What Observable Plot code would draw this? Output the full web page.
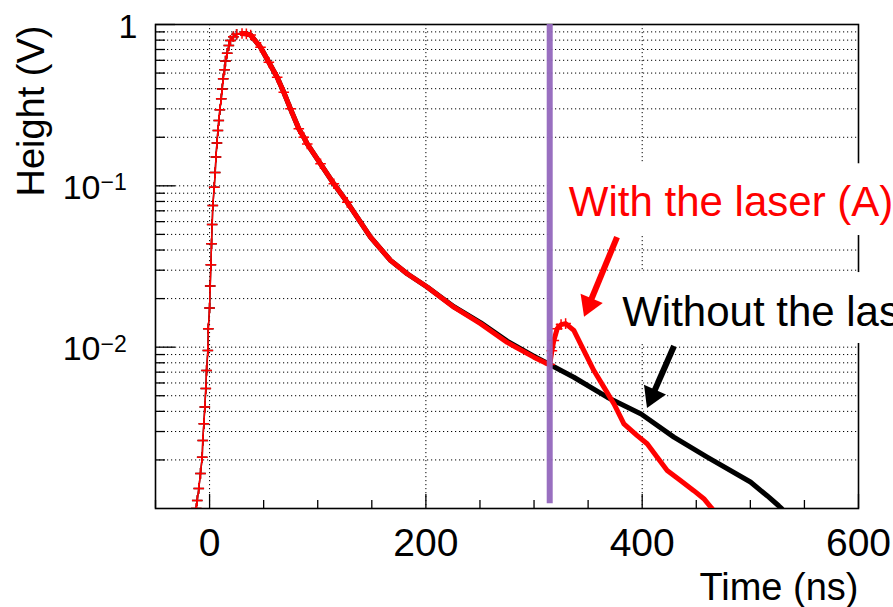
<!DOCTYPE html>
<html>
<head>
<meta charset="utf-8">
<script src="https://cdn.jsdelivr.net/npm/d3@7"></script>
<script src="https://cdn.jsdelivr.net/npm/@observablehq/plot@0.6"></script>
<style>
  html, body { margin: 0; padding: 0; background: #ffffff; }
  #chart svg { display: block; overflow: hidden; }
</style>
</head>
<body>
<div id="chart"></div>
<script>
// ---------------- data ----------------
// Red series: "With the laser (A)"
const redTime = [
  -12.3, -11.4, -10.0, -8.4, -6.8, -6.3, -5.3, -4.4, -3.5, -2.8, -1.6, -1.2,
  0.0, 0.6, 1.2, 1.8, 2.4, 3.0, 4.3, 5.2, 5.9, 6.8, 7.7, 8.5, 9.5, 10.8, 11.7,
  12.6, 13.8, 14.7, 16.3, 17.8, 19.3, 22, 25, 30, 34, 38,
  47.1, 54.8, 62.5, 68.6, 74.8, 82.5, 87.1, 90.3, 102.6, 114.9, 127.3,
  148.8, 167.3, 182.7, 201.2, 225.9, 250.5, 275.2, 299.8, 313.7, 314.5,
  316.5, 318.3, 321.4, 325, 329.2, 336.8, 346.1, 355.3, 364.6, 373.8, 383.1,
  395.4, 404.6, 413.9, 423.1, 435.4, 447.7, 457.0, 463.4, 464.5
];
const redHeight = [
  0.00100, 0.00112, 0.00133, 0.00165, 0.00208, 0.00264, 0.00335, 0.00425, 0.00554, 0.00716, 0.00953, 0.0130,
  0.0175, 0.0239, 0.0324, 0.0437, 0.0576, 0.0755, 0.098, 0.121, 0.151, 0.184, 0.220, 0.254, 0.296, 0.346, 0.399,
  0.461, 0.524, 0.593, 0.664, 0.741, 0.796, 0.84, 0.87, 0.88, 0.875, 0.86,
  0.723, 0.583, 0.471, 0.380, 0.300, 0.226, 0.200, 0.182, 0.137, 0.103, 0.079,
  0.0481, 0.0345, 0.0285, 0.0236, 0.0177, 0.0140, 0.0107, 0.00867, 0.00781, 0.0078,
  0.0095, 0.0110, 0.0130, 0.0138, 0.0140, 0.0127, 0.00953, 0.00716, 0.00565, 0.00446, 0.00335,
  0.00283, 0.00252, 0.00208, 0.00172, 0.00149, 0.00129, 0.00115, 0.00102, 0.00100
];

// Black series: "Without the laser"
const blackTime = [
  -12.3, -11.4, -10.0, -8.4, -6.8, -6.3, -5.3, -4.4, -3.5, -2.8, -1.6, -1.2,
  0.0, 0.6, 1.2, 1.8, 2.4, 3.0, 4.3, 5.2, 5.9, 6.8, 7.7, 8.5, 9.5, 10.8, 11.7,
  12.6, 13.8, 14.7, 16.3, 17.8, 19.3, 22, 25, 30, 34, 38,
  47.1, 54.8, 62.5, 68.6, 74.8, 82.5, 87.1, 90.3, 102.6, 114.9, 127.3,
  148.8, 167.3, 182.7, 201.2, 225.9, 250.5, 275.2, 299.8, 314.5,
  336.8, 367.6, 399.0, 429.3, 460.1, 500.1, 515.5, 526.2, 529.0
];
const blackHeight = [
  0.00100, 0.00112, 0.00133, 0.00165, 0.00208, 0.00264, 0.00335, 0.00425, 0.00554, 0.00716, 0.00953, 0.0130,
  0.0175, 0.0239, 0.0324, 0.0437, 0.0576, 0.0755, 0.098, 0.121, 0.151, 0.184, 0.220, 0.254, 0.296, 0.346, 0.399,
  0.461, 0.524, 0.593, 0.664, 0.741, 0.796, 0.84, 0.87, 0.88, 0.875, 0.86,
  0.723, 0.583, 0.471, 0.380, 0.300, 0.226, 0.200, 0.182, 0.137, 0.103, 0.079,
  0.0481, 0.0345, 0.0285, 0.0236, 0.0178, 0.0142, 0.0109, 0.0088, 0.0078,
  0.00651, 0.00490, 0.00385, 0.00277, 0.00208, 0.00146, 0.00120, 0.00104, 0.00100
];

// Axes / ticks
const xDomain = [-50, 600];
const yDomain = [0.001, 1];
const xMajorTicks = [0, 200, 400, 600];
const xMinorTicks = [-50, 50, 100, 150, 250, 300, 350, 450, 500, 550];
const xTickLabels = ["0", "200", "400", "600"];
const yMajorTicks = [0.01, 0.1, 1];
const yMinorTicks = [
  0.002, 0.003, 0.004, 0.005, 0.006, 0.007, 0.008, 0.009,
  0.02, 0.03, 0.04, 0.05, 0.06, 0.07, 0.08, 0.09,
  0.2, 0.3, 0.4, 0.5, 0.6, 0.7, 0.8, 0.9
];
const yPlainLabelValues = [1];
const yPlainLabels = ["1"];
const yPowerLabelValues = [0.1, 0.01];
const yPowerBase = ["10", "10"];
const yPowerExponent = ["\u22121", "\u22122"];
const xTitle = "Time (ns)";
const yTitle = "Height (V)";

// Laser marker line
const laserTime = [314.5];
const laserTop = [1];
const laserBottom = [0.00107];

// Annotations
const noteTexts = ["With the laser (A)", "Without the laser"];
const noteColors = ["#ff0000", "#000000"];
const noteTime = [332.2, 381.5];
const noteHeight = [0.0646, 0.01362];
// white boxes behind the annotations
const boxTime1 = [314.5, 314.5];
const boxTime2 = [700, 700];
const boxLow = [0.0492, 0.01054];
const boxHigh = [0.137, 0.0290];
// arrows
const arrowTailT = [377.2, 429.9];
const arrowTailV = [0.0478, 0.0101];
const arrowTipT = [346.7, 404.9];
const arrowTipV = [0.0153, 0.00417];
const arrowColors = ["#ff0000", "#000000"];

// ---------------- build ----------------
const W = 893, H = 607;
const mL = 155, mR = 35, mT = 24, mB = 99;
const plotW = W - mL - mR;
const plotH = H - mT - mB;
const fam = "'Liberation Sans', Arial, Helvetica, sans-serif";

const red = redTime.map((t, i) => ({t, v: redHeight[i]}));
const black = blackTime.map((t, i) => ({t, v: blackHeight[i]}));
const boxes = boxTime1.map((x1, i) => ({x1, x2: boxTime2[i], y1: boxLow[i], y2: boxHigh[i]}));
const notes = noteTexts.map((s, i) => ({s, c: noteColors[i], t: noteTime[i], v: noteHeight[i]}));
const powerLabels = yPowerLabelValues.map((v, i) => ({v, b: yPowerBase[i], e: yPowerExponent[i]}));
const plainLabels = yPlainLabelValues.map((v, i) => ({v, s: yPlainLabels[i]}));
const xLabels = xMajorTicks.map((x, i) => ({x, s: xTickLabels[i]}));

const arrowMark = (index, scales) => {
  const g = d3.create("svg:g");
  arrowTailT.forEach((_, i) => {
    const x1 = scales.x(arrowTailT[i]), y1 = scales.y(arrowTailV[i]);
    const x2 = scales.x(arrowTipT[i]), y2 = scales.y(arrowTipV[i]);
    const dx = x2 - x1, dy = y2 - y1, L = Math.hypot(dx, dy);
    const ux = dx / L, uy = dy / L;
    const hl = 20, hw = 12;
    const bx = x2 - ux * hl, by = y2 - uy * hl;
    g.append("line")
      .attr("x1", x1).attr("y1", y1)
      .attr("x2", bx + ux * 2).attr("y2", by + uy * 2)
      .attr("stroke", arrowColors[i]).attr("stroke-width", 6);
    g.append("path")
      .attr("d", `M${x2},${y2}L${bx - uy * hw},${by + ux * hw}L${bx + uy * hw},${by - ux * hw}Z`)
      .attr("fill", arrowColors[i]);
  });
  return g.node();
};

const dotted = {stroke: "#000", strokeWidth: 1, strokeDasharray: "1.2,2.8", strokeOpacity: 1};

const chart = Plot.plot({
  width: W,
  height: H,
  marginLeft: mL,
  marginRight: mR,
  marginTop: mT,
  marginBottom: mB,
  x: {type: "linear", domain: xDomain, axis: null},
  y: {type: "log", domain: yDomain, axis: null},
  style: {fontFamily: fam, background: "#ffffff", color: "#000"},
  marks: [
    // grid
    Plot.ruleY(yMinorTicks.concat(yMajorTicks), dotted),
    Plot.ruleX(xMajorTicks, dotted),
    // frame
    Plot.frame({stroke: "#000", strokeWidth: 1.6}),
    // ticks
    Plot.ruleY(yMinorTicks, {insetRight: plotW - 10, stroke: "#000", strokeWidth: 1.3}),
    Plot.ruleY(yMajorTicks, {insetRight: plotW - 20, stroke: "#000", strokeWidth: 1.3}),
    Plot.ruleX(xMinorTicks, {insetTop: plotH - 8, stroke: "#000", strokeWidth: 1.3}),
    Plot.ruleX(xMajorTicks, {insetTop: plotH - 14, stroke: "#000", strokeWidth: 1.3}),
    // annotation backgrounds
    Plot.rect(boxes, {x1: "x1", x2: "x2", y1: "y1", y2: "y2", fill: "#ffffff"}),
    // black curve
    Plot.line(black, {x: "t", y: "v", stroke: "#000", strokeWidth: 1.5, clip: true}),
    Plot.line(black.filter(d => d.t >= 28), {x: "t", y: "v", stroke: "#000", strokeWidth: 5, strokeLinejoin: "round", clip: true}),
    Plot.dot(black.filter(d => d.t < 28), {x: "t", y: "v", symbol: "plus", r: 3.5, stroke: "#000", strokeWidth: 1.5, clip: true}),
    // red curve
    Plot.line(red, {x: "t", y: "v", stroke: "#ff0000", strokeWidth: 1.5, clip: true}),
    Plot.line(red.filter(d => d.t >= 28), {x: "t", y: "v", stroke: "#ff0000", strokeWidth: 5, strokeLinejoin: "round", clip: true}),
    Plot.dot(red.filter(d => d.t < 130 || (d.t > 314 && d.t < 330)), {x: "t", y: "v", symbol: "plus", r: 3.5, stroke: "#ff0000", strokeWidth: 1.5, clip: true}),
    // laser line
    Plot.ruleX(laserTime, {x: d => d, y1: () => laserTop[0], y2: () => laserBottom[0], stroke: "#9467bd", strokeWidth: 6, strokeOpacity: 0.95}),
    // arrows
    arrowMark,
    // annotation texts
    Plot.text(notes, {x: "t", y: "v", text: "s", fill: "c", textAnchor: "start", lineAnchor: "bottom", fontSize: 42}),
    // x tick labels
    Plot.text(xLabels, {x: "x", text: "s", frameAnchor: "bottom", lineAnchor: "bottom", dy: 47, fontSize: 39, fill: "#000"}),
    // y tick labels
    Plot.text(plainLabels, {y: "v", text: "s", frameAnchor: "left", textAnchor: "end", lineAnchor: "bottom", dx: -18, dy: 13.7, fontSize: 34, fill: "#000"}),
    Plot.text(powerLabels, {y: "v", text: "b", frameAnchor: "left", textAnchor: "end", lineAnchor: "bottom", dx: -55, dy: 13, fontSize: 34, fill: "#000"}),
    Plot.text(powerLabels, {y: "v", text: "e", frameAnchor: "left", textAnchor: "start", lineAnchor: "bottom", dx: -55, dy: 4.5, fontSize: 23, fill: "#000"}),
    // axis titles
    Plot.text([xTitle], {frameAnchor: "bottom-right", textAnchor: "end", lineAnchor: "bottom", dy: 91, fontSize: 38, fill: "#000"}),
    Plot.text([yTitle], {frameAnchor: "top-left", textAnchor: "end", lineAnchor: "bottom", rotate: -90, dx: -111.7, dy: 1, fontSize: 38, fill: "#000"})
  ]
});

document.getElementById("chart").appendChild(chart);
</script>
</body>
</html>
